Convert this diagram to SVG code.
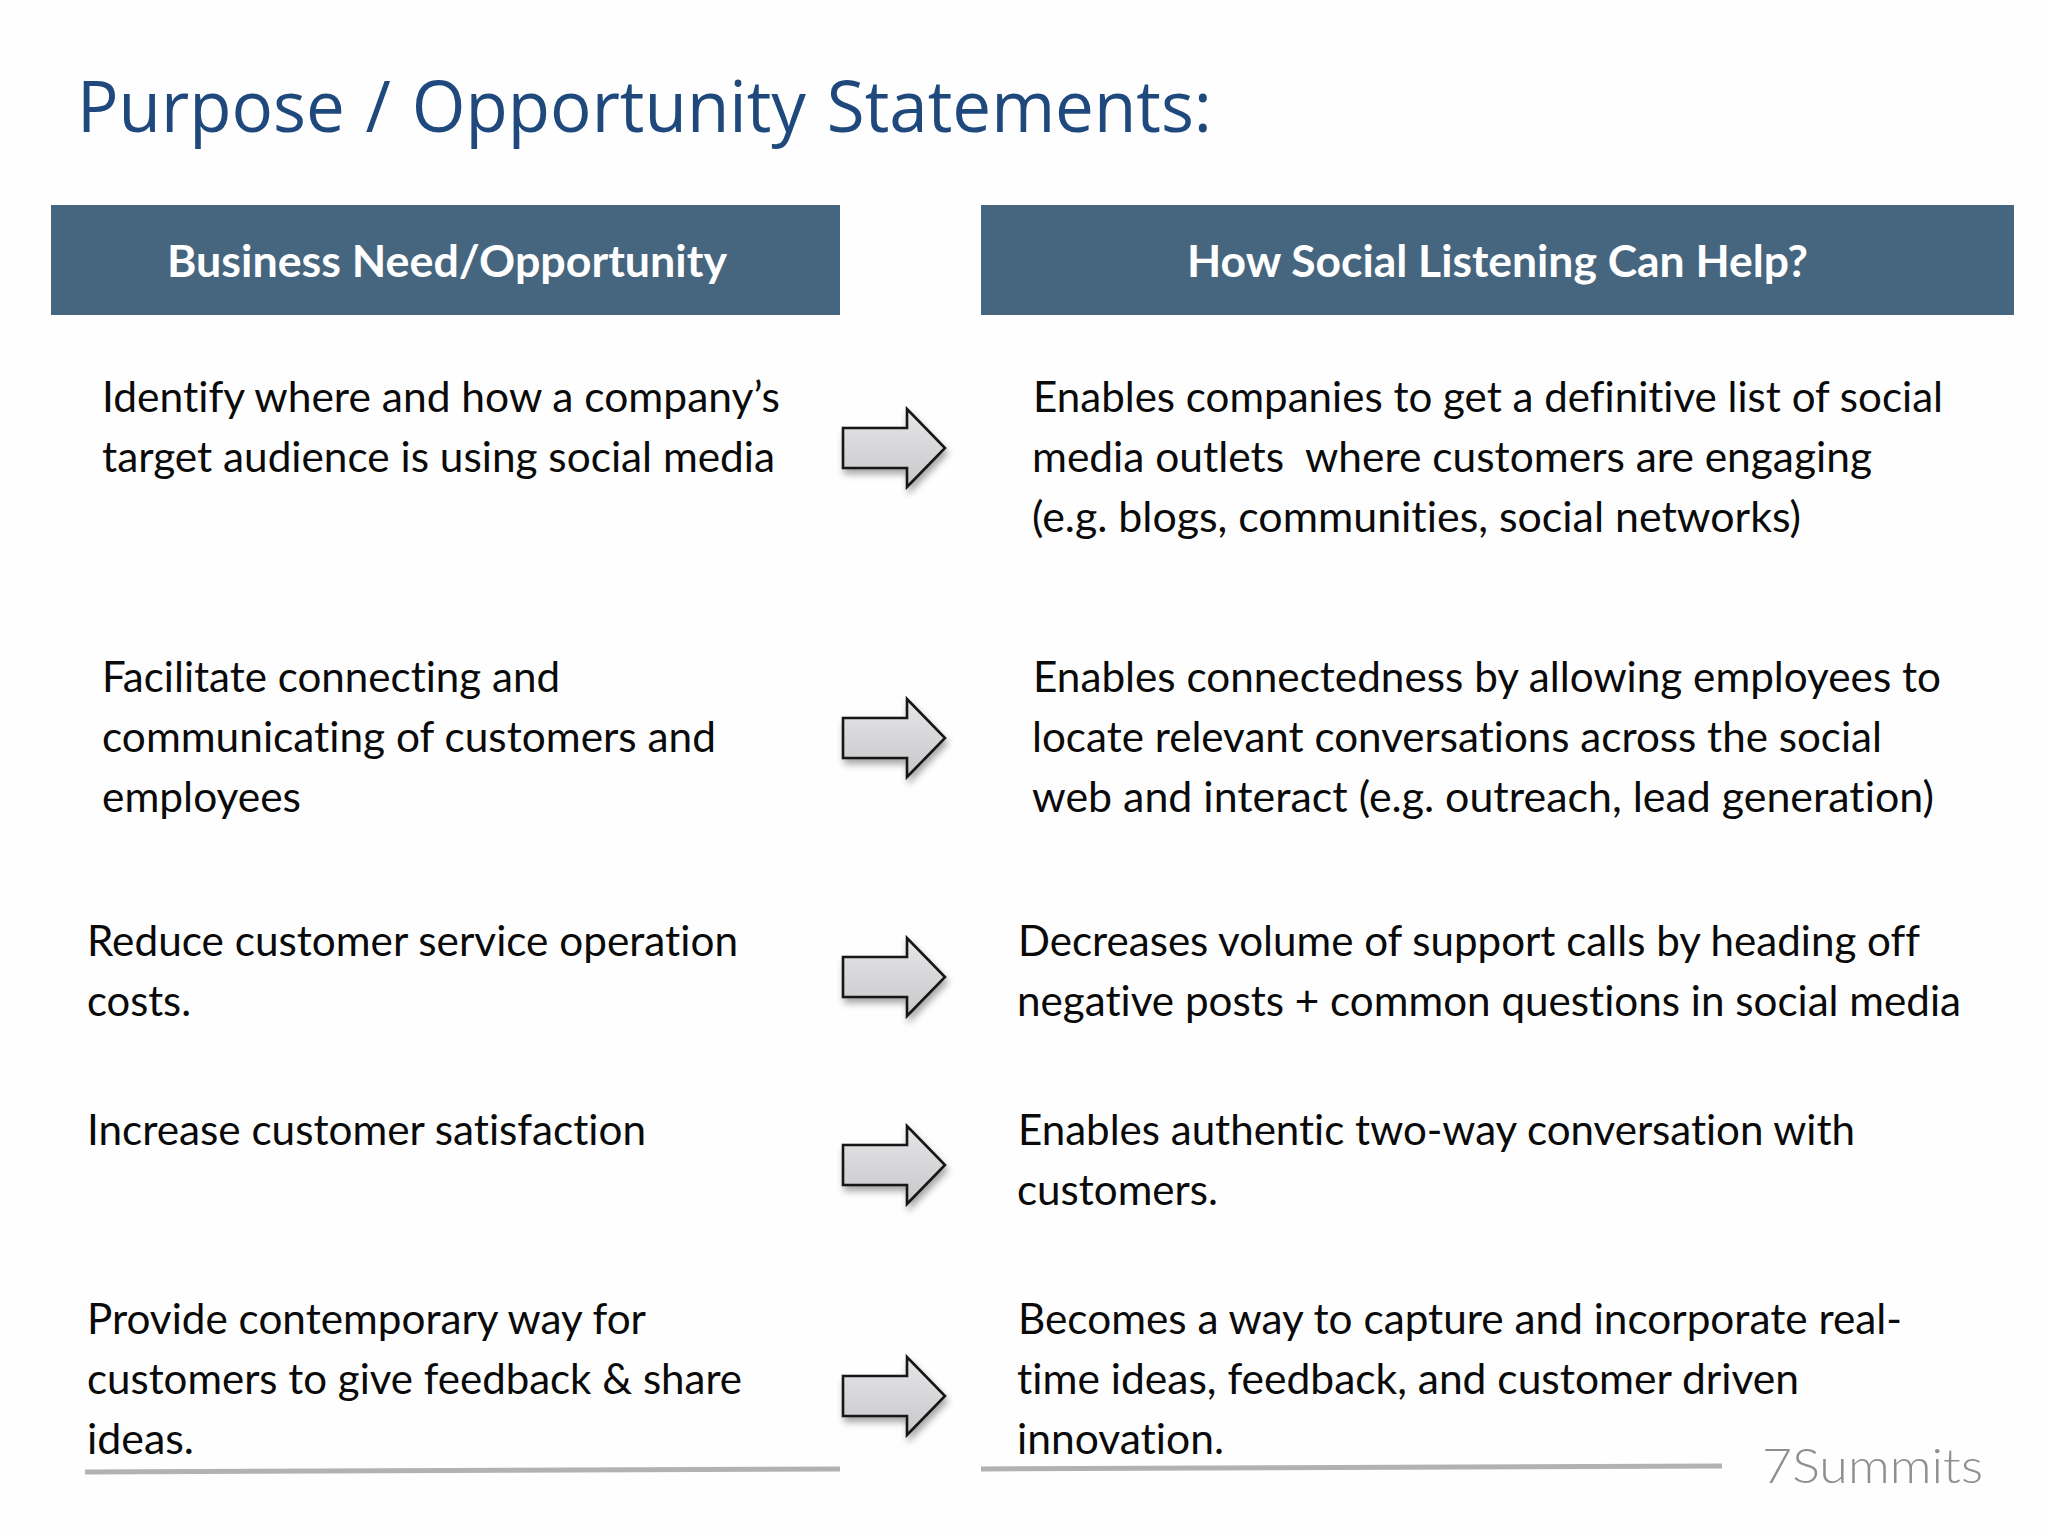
<svg xmlns="http://www.w3.org/2000/svg" width="2048" height="1536" viewBox="0 0 2048 1536">
<style>
text{font-variant-ligatures:none}
.b{font-family:Lato,"Open Sans","Liberation Sans",sans-serif;font-size:42px;fill:#0a0a0a}
.h{font-family:Lato,"Open Sans","Liberation Sans",sans-serif;font-size:44px;font-weight:700;fill:#fff;text-anchor:start}
.t{font-family:"Open Sans","Noto Sans",sans-serif;font-size:72px;fill:#1f497d;word-spacing:3px}
.hd{fill:#46667f}
.rule{stroke:#b2b2b2;stroke-width:5;fill:none}
</style>
<defs>
<linearGradient id="g" x1="0" y1="0" x2="0" y2="1"><stop offset="0" stop-color="#e6e6e8"/><stop offset="1" stop-color="#c8c8cb"/></linearGradient>
<filter id="s" x="-20%" y="-20%" width="150%" height="150%"><feGaussianBlur in="SourceAlpha" stdDeviation="3.5"/><feOffset dx="2" dy="5"/><feComponentTransfer><feFuncA type="linear" slope="0.35"/></feComponentTransfer><feMerge><feMergeNode/><feMergeNode in="SourceGraphic"/></feMerge></filter>
<polygon id="arrow" points="843,428 907,428 907,409 945,448 907,487 907,468 843,468" fill="url(#g)" stroke="#151515" stroke-width="2.6" stroke-linejoin="miter" filter="url(#s)"/>
</defs>
<rect width="2048" height="1536" fill="#fefefe"/>
<g id="title"><text class="t" x="77" y="132" textLength="1135" lengthAdjust="spacingAndGlyphs">Purpose / Opportunity Statements:</text></g>
<g id="header-left"><rect class="hd" x="51" y="205" width="789" height="110"/><text class="h" x="167" y="277" textLength="560" lengthAdjust="spacingAndGlyphs">Business Need/Opportunity</text></g>
<g id="header-right"><rect class="hd" x="981" y="205" width="1033" height="110"/><text class="h" x="1187" y="277" textLength="621" lengthAdjust="spacingAndGlyphs">How Social Listening Can Help?</text></g>
<g id="need-1"><text class="b" x="102" y="412" textLength="678" lengthAdjust="spacingAndGlyphs">Identify where and how a company’s</text><text class="b" x="102" y="472" textLength="673" lengthAdjust="spacingAndGlyphs">target audience is using social media</text></g>
<g id="need-2"><text class="b" x="102" y="692" textLength="458" lengthAdjust="spacingAndGlyphs">Facilitate connecting and</text><text class="b" x="102" y="752" textLength="614" lengthAdjust="spacingAndGlyphs">communicating of customers and</text><text class="b" x="102" y="812" textLength="199" lengthAdjust="spacingAndGlyphs">employees</text></g>
<g id="need-3"><text class="b" x="87" y="956" textLength="651" lengthAdjust="spacingAndGlyphs">Reduce customer service operation</text><text class="b" x="87" y="1016" textLength="104" lengthAdjust="spacingAndGlyphs">costs.</text></g>
<g id="need-4"><text class="b" x="87" y="1145" textLength="559" lengthAdjust="spacingAndGlyphs">Increase customer satisfaction</text></g>
<g id="need-5"><text class="b" x="87" y="1334" textLength="559" lengthAdjust="spacingAndGlyphs">Provide contemporary way for</text><text class="b" x="87" y="1394" textLength="655" lengthAdjust="spacingAndGlyphs">customers to give feedback &amp; share</text><text class="b" x="87" y="1454" textLength="107" lengthAdjust="spacingAndGlyphs">ideas.</text></g>
<g id="help-1"><text class="b" x="1033" y="412" textLength="910" lengthAdjust="spacingAndGlyphs">Enables companies to get a definitive list of social</text><text class="b" x="1032" y="472" textLength="840" lengthAdjust="spacingAndGlyphs" xml:space="preserve">media outlets  where customers are engaging</text><text class="b" x="1032" y="532" textLength="769" lengthAdjust="spacingAndGlyphs">(e.g. blogs, communities, social networks)</text></g>
<g id="help-2"><text class="b" x="1033" y="692" textLength="908" lengthAdjust="spacingAndGlyphs">Enables connectedness by allowing employees to</text><text class="b" x="1032" y="752" textLength="850" lengthAdjust="spacingAndGlyphs">locate relevant conversations across the social</text><text class="b" x="1032" y="812" textLength="902" lengthAdjust="spacingAndGlyphs">web and interact (e.g. outreach, lead generation)</text></g>
<g id="help-3"><text class="b" x="1018" y="956" textLength="902" lengthAdjust="spacingAndGlyphs">Decreases volume of support calls by heading off</text><text class="b" x="1017" y="1016" textLength="944" lengthAdjust="spacingAndGlyphs">negative posts + common questions in social media</text></g>
<g id="help-4"><text class="b" x="1018" y="1145" textLength="837" lengthAdjust="spacingAndGlyphs">Enables authentic two-way conversation with</text><text class="b" x="1017" y="1205" textLength="201" lengthAdjust="spacingAndGlyphs">customers.</text></g>
<g id="help-5"><text class="b" x="1018" y="1334" textLength="884" lengthAdjust="spacingAndGlyphs">Becomes a way to capture and incorporate real-</text><text class="b" x="1017" y="1394" textLength="782" lengthAdjust="spacingAndGlyphs">time ideas, feedback, and customer driven</text><text class="b" x="1017" y="1454" textLength="207" lengthAdjust="spacingAndGlyphs">innovation.</text></g>
<g id="connectors">
<use href="#arrow"/>
<use href="#arrow" y="290"/>
<use href="#arrow" y="529"/>
<use href="#arrow" y="717"/>
<use href="#arrow" y="948"/>
</g>
<g id="rules"><path class="rule" d="M85 1472L840 1469"/><path class="rule" d="M981 1469L1722 1466"/></g>
<g id="logo"><text x="1762" y="1483" font-family="Lato,'Open Sans',sans-serif" font-weight="300" font-size="48" fill="#8f8f92" textLength="221" lengthAdjust="spacingAndGlyphs">7Summits</text></g>
</svg>
